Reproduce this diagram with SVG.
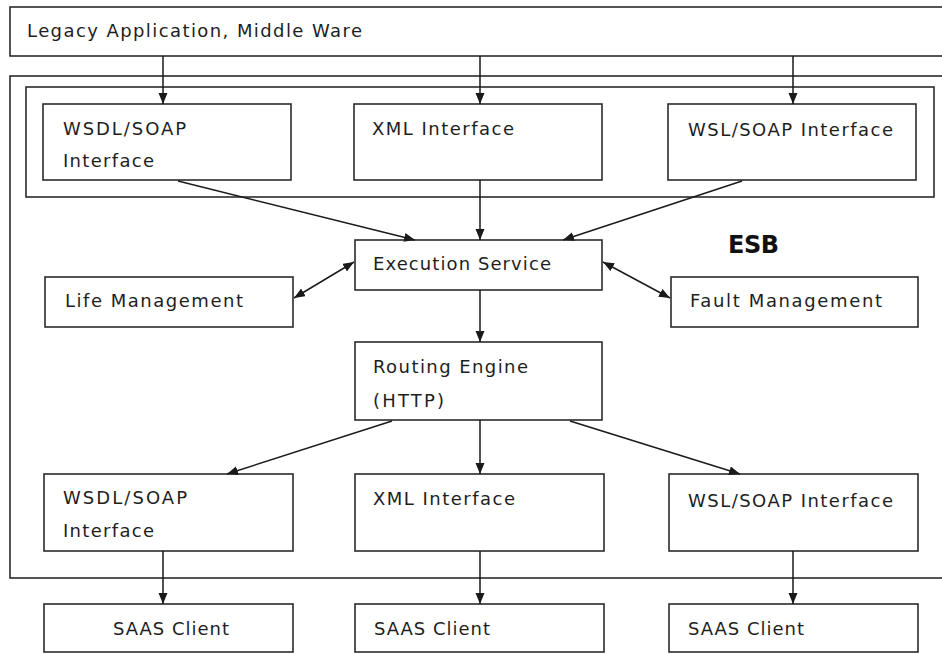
<svg xmlns="http://www.w3.org/2000/svg" width="942" height="654" viewBox="0 0 942 654">
  <defs>
    <marker id="arrow" markerUnits="userSpaceOnUse" markerWidth="12" markerHeight="10" refX="11" refY="4.5" orient="auto-start-reverse" viewBox="0 0 12 10">
      <path d="M0,0 L11,4.5 L0,9 Z" fill="#1a1a1a"/>
    </marker>
    <style>
      .box { fill: #ffffff; stroke: #2b2b2b; stroke-width: 1.6; }
      .frame { fill: none; stroke: #2b2b2b; stroke-width: 1.6; }
      .lbl { font-family: "DejaVu Sans", "Open Sans", sans-serif; font-size: 18px; fill: #1e1e1e; }
      .title { font-family: "DejaVu Sans", "Open Sans", sans-serif; font-size: 24px; font-weight: bold; fill: #111111; }
      .edge { fill: none; stroke: #1a1a1a; stroke-width: 1.5; marker-end: url(#arrow); }
      .both { marker-start: url(#arrow); }
    </style>
  </defs>

  <rect width="942" height="654" fill="#ffffff"/>

  <!-- source system -->
  <g id="legacy">
    <rect class="box" x="10" y="7" width="950" height="49"/>
    <text class="lbl" x="27" y="37" textLength="335" lengthAdjust="spacing">Legacy Application, Middle Ware</text>
  </g>

  <!-- bus frame and inbound interface group -->
  <g id="esb">
    <rect class="frame" x="10" y="76" width="950" height="502"/>
    <rect class="frame" x="26" y="87" width="908" height="110"/>
    <text class="title" x="728" y="253" textLength="51" lengthAdjust="spacing">ESB</text>
  </g>

  <g id="in-wsdl">
    <rect class="box" x="43" y="104" width="248" height="76"/>
    <text class="lbl" x="63" y="135" textLength="123" lengthAdjust="spacing">WSDL/SOAP</text>
    <text class="lbl" x="63" y="167" textLength="91" lengthAdjust="spacing">Interface</text>
  </g>
  <g id="in-xml">
    <rect class="box" x="354" y="104" width="248" height="76"/>
    <text class="lbl" x="372" y="135" textLength="142" lengthAdjust="spacing">XML Interface</text>
  </g>
  <g id="in-wsl">
    <rect class="box" x="668" y="104" width="248" height="76"/>
    <text class="lbl" x="688" y="136" textLength="205" lengthAdjust="spacing">WSL/SOAP Interface</text>
  </g>

  <g id="execution">
    <rect class="box" x="355" y="240" width="247" height="50"/>
    <text class="lbl" x="373" y="270" textLength="178" lengthAdjust="spacing">Execution Service</text>
  </g>
  <g id="life">
    <rect class="box" x="45" y="277" width="248" height="50"/>
    <text class="lbl" x="65" y="307" textLength="178" lengthAdjust="spacing">Life Management</text>
  </g>
  <g id="fault">
    <rect class="box" x="671" y="277" width="247" height="50"/>
    <text class="lbl" x="690" y="307" textLength="192" lengthAdjust="spacing">Fault Management</text>
  </g>

  <g id="routing">
    <rect class="box" x="355" y="342" width="247" height="78"/>
    <text class="lbl" x="373" y="373" textLength="155" lengthAdjust="spacing">Routing Engine</text>
    <text class="lbl" x="373" y="407" textLength="71" lengthAdjust="spacing">(HTTP)</text>
  </g>

  <g id="out-wsdl">
    <rect class="box" x="44" y="474" width="249" height="77"/>
    <text class="lbl" x="63" y="504" textLength="124" lengthAdjust="spacing">WSDL/SOAP</text>
    <text class="lbl" x="63" y="537" textLength="91" lengthAdjust="spacing">Interface</text>
  </g>
  <g id="out-xml">
    <rect class="box" x="355" y="474" width="249" height="77"/>
    <text class="lbl" x="373" y="505" textLength="142" lengthAdjust="spacing">XML Interface</text>
  </g>
  <g id="out-wsl">
    <rect class="box" x="669" y="474" width="249" height="77"/>
    <text class="lbl" x="688" y="507" textLength="205" lengthAdjust="spacing">WSL/SOAP Interface</text>
  </g>

  <g id="client-1">
    <rect class="box" x="44" y="604" width="249" height="48"/>
    <text class="lbl" x="113" y="635" textLength="116" lengthAdjust="spacing">SAAS Client</text>
  </g>
  <g id="client-2">
    <rect class="box" x="355" y="604" width="249" height="48"/>
    <text class="lbl" x="374" y="635" textLength="116" lengthAdjust="spacing">SAAS Client</text>
  </g>
  <g id="client-3">
    <rect class="box" x="669" y="604" width="249" height="48"/>
    <text class="lbl" x="688" y="635" textLength="116" lengthAdjust="spacing">SAAS Client</text>
  </g>

  <!-- connectors -->
  <g id="connectors">
    <line class="edge" x1="163" y1="56" x2="163" y2="104"/>
    <line class="edge" x1="480" y1="56" x2="480" y2="104"/>
    <line class="edge" x1="793" y1="56" x2="793" y2="104"/>

    <line class="edge" x1="178" y1="181" x2="415" y2="240"/>
    <line class="edge" x1="480" y1="180" x2="480" y2="240"/>
    <line class="edge" x1="742" y1="181" x2="563" y2="240"/>

    <line class="edge both" x1="354" y1="262" x2="294" y2="298"/>
    <line class="edge both" x1="603" y1="262" x2="670" y2="298"/>

    <line class="edge" x1="480" y1="290" x2="480" y2="342"/>

    <line class="edge" x1="392" y1="421" x2="227" y2="474"/>
    <line class="edge" x1="480" y1="420" x2="480" y2="474"/>
    <line class="edge" x1="570" y1="421" x2="740" y2="474"/>

    <line class="edge" x1="163" y1="551" x2="163" y2="604"/>
    <line class="edge" x1="480" y1="551" x2="480" y2="604"/>
    <line class="edge" x1="793" y1="551" x2="793" y2="604"/>
  </g>
</svg>
